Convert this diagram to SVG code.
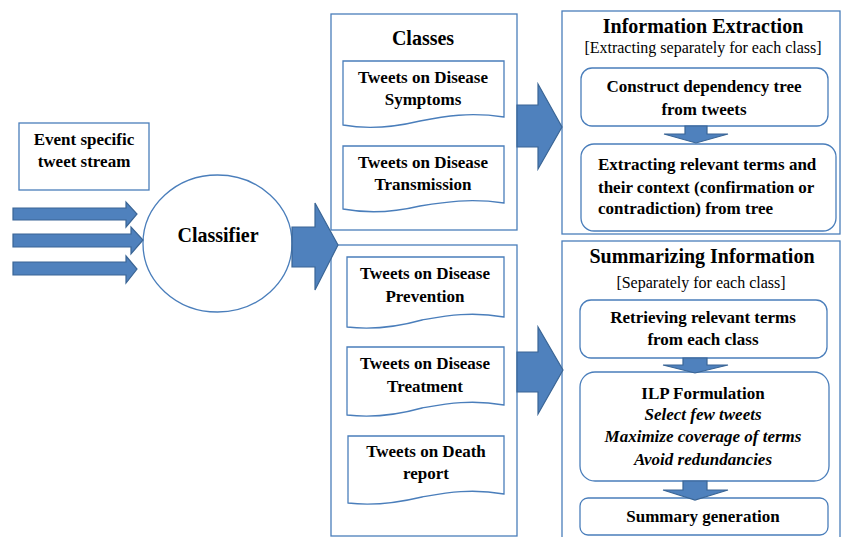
<svg xmlns="http://www.w3.org/2000/svg" width="841" height="537" viewBox="0 0 841 537">
<style>
.box{fill:#fff;stroke:#4a7ebb;stroke-width:1.3}
.arr{fill:#4f81bd;stroke:#3a6595;stroke-width:1.2}
text{font-family:'Liberation Serif','Times New Roman',serif;fill:#000}
.b{font-weight:bold;font-size:17px}
.h{font-weight:bold;font-size:20px}
.r{font-size:16px}
.i{font-weight:bold;font-style:italic;font-size:17px}
</style>
<rect width="841" height="537" fill="#fff"/>
<g id="event">
<rect class="box" x="19" y="123" width="130" height="67"/>
<text class="b" x="84" y="145" text-anchor="middle">Event specific</text>
<text class="b" x="84" y="167" text-anchor="middle">tweet stream</text>
</g>
<g id="classifier">
<ellipse class="box" cx="217.5" cy="243.5" rx="74.5" ry="68.5"/>
<text class="h" x="218" y="242" text-anchor="middle">Classifier</text>
</g>
<g id="classes">
<rect class="box" x="331" y="14" width="186" height="216"/>
<text class="h" x="423" y="45" text-anchor="middle">Classes</text>
</g>
<g id="symptoms">
<path class="box" d="M343,61 H504 V117 C470,112 445,116 420,121 C395,127 370,130 343,125 Z"/>
<text class="b" x="423" y="83" text-anchor="middle">Tweets on Disease</text>
<text class="b" x="423" y="105" text-anchor="middle">Symptoms</text>
</g>
<g id="transmission">
<path class="box" d="M343,146 H504 V203 C470,198 445,202 420,206 C395,212 370,214 343,209 Z"/>
<text class="b" x="423" y="168" text-anchor="middle">Tweets on Disease</text>
<text class="b" x="423" y="190" text-anchor="middle">Transmission</text>
</g>
<g id="classes2">
<rect class="box" x="331" y="245" width="186" height="291"/>
</g>
<g id="prevention">
<path class="box" d="M347,257 H504 V317 C470,311 445,316 422,320 C397,327 372,330 347,327 Z"/>
<text class="b" x="425" y="279" text-anchor="middle">Tweets on Disease</text>
<text class="b" x="425" y="302" text-anchor="middle">Prevention</text>
</g>
<g id="treatment">
<path class="box" d="M347,347 H504 V405 C470,399 445,404 422,408 C397,415 372,418 347,415 Z"/>
<text class="b" x="425" y="369" text-anchor="middle">Tweets on Disease</text>
<text class="b" x="425" y="392" text-anchor="middle">Treatment</text>
</g>
<g id="death">
<path class="box" d="M348,436 H504 V494 C470,488 445,493 422,497 C397,503 372,506 348,503 Z"/>
<text class="b" x="426" y="457" text-anchor="middle">Tweets on Death</text>
<text class="b" x="426" y="479" text-anchor="middle">report</text>
</g>
<g id="extraction">
<rect class="box" x="562" y="11" width="278" height="223"/>
<text class="h" x="703" y="33" text-anchor="middle">Information Extraction</text>
<text class="r" x="703" y="53" text-anchor="middle">[Extracting separately for each class]</text>
</g>
<g id="construct">
<rect class="box" x="581" y="68" width="247" height="58" rx="11"/>
<text class="b" x="704" y="92" text-anchor="middle">Construct dependency tree</text>
<text class="b" x="704" y="115" text-anchor="middle">from tweets</text>
</g>
<g id="extract-terms">
<rect class="box" x="581" y="144" width="255" height="87" rx="13"/>
<text class="b" x="598" y="170">Extracting relevant terms and</text>
<text class="b" x="598" y="193">their context (confirmation or</text>
<text class="b" x="598" y="214">contradiction) from tree</text>
</g>
<g id="summarizing">
<rect class="box" x="562" y="241" width="278" height="300"/>
<text class="h" x="702" y="263" text-anchor="middle">Summarizing Information</text>
<text class="r" x="701" y="288" text-anchor="middle">[Separately for each class]</text>
</g>
<g id="retrieve">
<rect class="box" x="580" y="300" width="247" height="58" rx="11"/>
<text class="b" x="703" y="323" text-anchor="middle">Retrieving relevant terms</text>
<text class="b" x="703" y="345" text-anchor="middle">from each class</text>
</g>
<g id="ilp">
<rect class="box" x="580" y="372" width="249" height="109" rx="15"/>
<text class="b" x="703" y="399" text-anchor="middle">ILP Formulation</text>
<text class="i" x="703" y="420" text-anchor="middle">Select few tweets</text>
<text class="i" x="703" y="442" text-anchor="middle">Maximize coverage of terms</text>
<text class="i" x="703" y="465" text-anchor="middle">Avoid redundancies</text>
</g>
<g id="summary">
<rect class="box" x="580" y="498" width="248" height="37" rx="8"/>
<text class="b" x="703" y="522" text-anchor="middle">Summary generation</text>
</g>
<g id="connectors">
<path class="arr" d="M13,208 H126 V202 L137,214 L126,227 V220 H13 Z"/>
<path class="arr" d="M13,234 H131 V227 L143,240 L131,254 V247 H13 Z"/>
<path class="arr" d="M13,262 H126 V256 L137,269 L126,283 V275 H13 Z"/>
<path class="arr" d="M292,227 H315 V203 L338,245 L315,290 V267 H292 Z"/>
<path class="arr" d="M517,105 H538 V84 L562,127 L538,169 V147 H517 Z"/>
<path class="arr" d="M517,352 H538 V327 L563,370 L538,414 V392 H517 Z"/>
<path class="arr" d="M685,126 H707 V134 H728 L696,143 L664,134 H685 Z"/>
<path class="arr" d="M683,358 H707 V365 H728 L695,373 L663,365 H683 Z"/>
<path class="arr" d="M683,481 H707 V490 H728 L695,500 L663,490 H683 Z"/>
</g>
</svg>
